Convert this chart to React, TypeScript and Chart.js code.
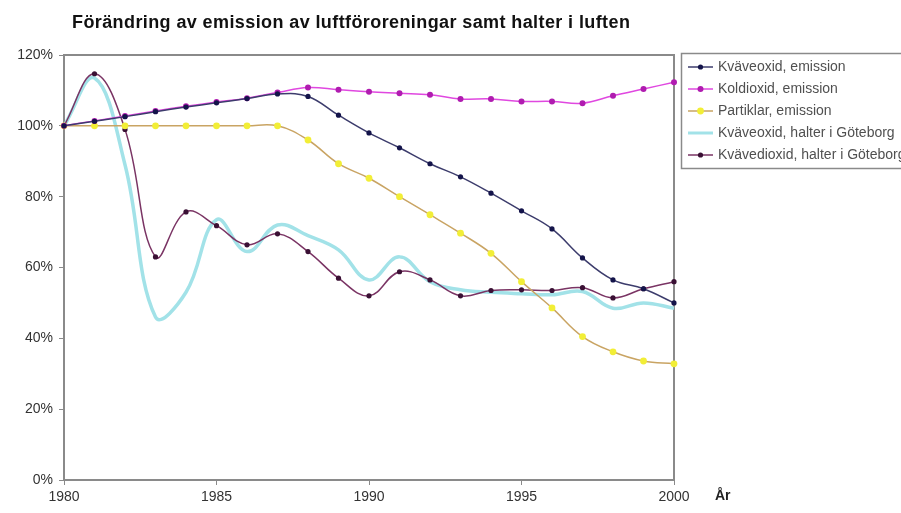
import React, { useEffect, useRef } from "react";
import { Chart, registerables } from "chart.js";

Chart.register(...registerables);

const chartTitle = "Förändring av emission av luftföroreningar samt halter i luften";
const xAxisTitle = "År";
const years = [1980, 1981, 1982, 1983, 1984, 1985, 1986, 1987, 1988, 1989, 1990, 1991, 1992, 1993, 1994, 1995, 1996, 1997, 1998, 1999, 2000];
const xTickValues = [1980, 1985, 1990, 1995, 2000];
const yTickValues = [0, 20, 40, 60, 80, 100, 120];

const seriesLabels = [
  "Kväveoxid, emission",
  "Koldioxid, emission",
  "Partiklar, emission",
  "Kväveoxid, halter i Göteborg",
  "Kvävedioxid, halter i Göteborg",
];

const noxEmission = [100, 101.3, 102.6, 104, 105.3, 106.5, 107.7, 109, 108.3, 103, 98, 93.8, 89.3, 85.6, 81, 76, 70.9, 62.7, 56.5, 54, 50];
const co2Emission = [100, 101.4, 102.8, 104.2, 105.5, 106.7, 107.8, 109.4, 110.8, 110.2, 109.6, 109.2, 108.8, 107.6, 107.6, 106.9, 106.9, 106.4, 108.5, 110.4, 112.3];
const particleEmission = [100, 100, 100, 100, 100, 100, 100, 100, 96, 89.3, 85.2, 80, 74.9, 69.7, 64, 56, 48.6, 40.5, 36.2, 33.6, 32.8];
const noxLevels = [100, 113.5, 89, 46, 53, 73.5, 64.5, 72, 69, 65, 56.5, 63, 56, 53.7, 53, 52.6, 52.3, 53.2, 48.5, 50, 48.5];
const no2Levels = [100, 114.7, 99, 63, 75.7, 71.8, 66.4, 69.5, 64.5, 57, 52, 58.8, 56.5, 52, 53.5, 53.7, 53.5, 54.3, 51.4, 54, 56];

const seriesValues = [noxEmission, co2Emission, particleEmission, noxLevels, no2Levels];

const styles = [
  { line: "#3c3c6c", point: "#14144a", radius: 2.6, width: 1.5 },
  { line: "#e048e0", point: "#b01cb0", radius: 3, width: 1.5 },
  { line: "#c9a463", point: "#f2ee36", radius: 3.4, width: 1.5 },
  { line: "#a2e2e8", point: "#a2e2e8", radius: 0, width: 3.5 },
  { line: "#7a3464", point: "#3a1034", radius: 2.6, width: 1.5 },
];

const FONT = "'Liberation Sans', Arial, sans-serif";

const decorPlugin = {
  id: "decor",
  beforeDatasetsDraw(chart: any) {
    const { ctx, chartArea } = chart;
    ctx.save();
    ctx.strokeStyle = "#8a8a8a";
    ctx.lineWidth = 2;
    ctx.strokeRect(chartArea.left, chartArea.top, chartArea.right - chartArea.left, chartArea.bottom - chartArea.top);
    ctx.restore();
  },
  afterDraw(chart: any) {
    const { ctx } = chart;
    ctx.save();
    // title
    ctx.fillStyle = "#111";
    ctx.font = `bold 18px ${FONT}`;
    ctx.textBaseline = "middle";
    ctx.textAlign = "left";
    try { (ctx as any).letterSpacing = "0.4px"; } catch (e) {}
    ctx.fillText(chartTitle, 72, 23);
    try { (ctx as any).letterSpacing = "0px"; } catch (e) {}
    // x axis title
    ctx.font = `bold 14px ${FONT}`;
    ctx.fillStyle = "#222";
    ctx.fillText(xAxisTitle, 715, 496);
    // legend
    ctx.strokeStyle = "#8a8a8a";
    ctx.lineWidth = 1.5;
    ctx.strokeRect(681.5, 53.5, 240, 115);
    chart.data.datasets.forEach((ds: any, i: number) => {
      const y = 67 + i * 22;
      const st = styles[i];
      ctx.strokeStyle = st.line;
      ctx.lineWidth = Math.min(st.width, 3);
      ctx.beginPath();
      ctx.moveTo(688, y);
      ctx.lineTo(713, y);
      ctx.stroke();
      if (st.radius > 0) {
        ctx.fillStyle = st.point;
        ctx.beginPath();
        ctx.arc(700.5, y, st.radius, 0, Math.PI * 2);
        ctx.fill();
      }
      ctx.fillStyle = "#505050";
      ctx.font = `14px ${FONT}`;
      ctx.fillText(ds.label, 718, y);
    });
    ctx.restore();
  },
};

export default function App() {
  const ref = useRef<HTMLCanvasElement | null>(null);
  useEffect(() => {
    if (!ref.current) return;
    const chart = new Chart(ref.current, {
      type: "line",
      data: {
        datasets: seriesValues.map((vals, i) => ({
          label: seriesLabels[i],
          data: years.map((yr, j) => ({ x: yr, y: vals[j] })),
          borderColor: styles[i].line,
          backgroundColor: styles[i].point,
          pointBackgroundColor: styles[i].point,
          pointBorderColor: styles[i].point,
          pointRadius: styles[i].radius,
          pointBorderWidth: 0,
          borderWidth: styles[i].width,
          tension: 0.4,
          fill: false,
          clip: false,
          order: i === 3 ? 10 : i,
        })),
      },
      options: {
        animation: false,
        responsive: false,
        maintainAspectRatio: false,
        layout: { padding: { top: 55, right: 227, left: 0, bottom: 0 } },
        plugins: {
          legend: { display: false },
          title: { display: false },
          tooltip: { enabled: false },
        },
        scales: {
          x: {
            type: "linear",
            min: 1980,
            max: 2000,
            afterFit: (s: any) => { s.height = 33; },
            afterBuildTicks: (s: any) => { s.ticks = xTickValues.map((v) => ({ value: v })); },
            ticks: {
              callback: (v: any) => String(v),
              color: "#333",
              font: { family: FONT, size: 14 },
              padding: 4,
              maxRotation: 0,
            },
            grid: { display: true, drawOnChartArea: false, drawTicks: true, tickLength: 5, color: "#8a8a8a" },
            border: { display: true, color: "#8a8a8a", width: 2 },
          },
          y: {
            min: 0,
            max: 120,
            afterFit: (s: any) => { s.width = 64; },
            afterBuildTicks: (s: any) => { s.ticks = yTickValues.map((v) => ({ value: v })); },
            ticks: {
              callback: (v: any) => v + "%",
              color: "#333",
              font: { family: FONT, size: 14 },
              padding: 6,
            },
            grid: { display: true, drawOnChartArea: false, drawTicks: true, tickLength: 5, color: "#8a8a8a" },
            border: { display: true, color: "#8a8a8a", width: 2 },
          },
        },
      },
      plugins: [decorPlugin],
    } as any);
    return () => chart.destroy();
  }, []);
  return (
    <div style={{ position: "absolute", left: 0, top: 0, width: 901, height: 513, background: "#fff" }}>
      <canvas ref={ref} width={901} height={513} style={{ width: 901, height: 513 }} />
    </div>
  );
}
